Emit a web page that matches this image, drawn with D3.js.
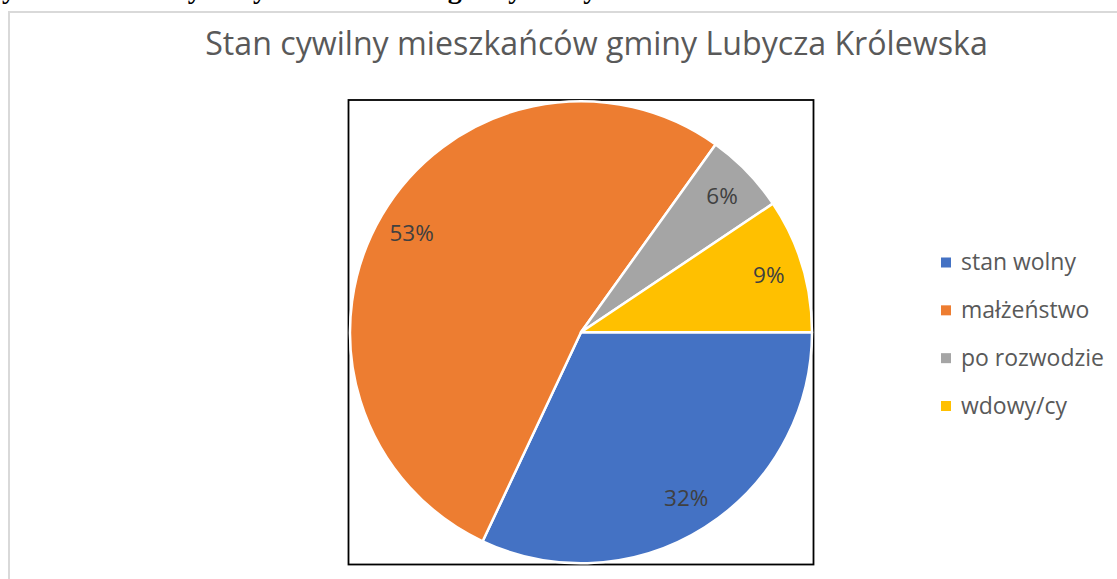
<!DOCTYPE html>
<html>
<head>
<meta charset="utf-8">
<script src="https://cdn.jsdelivr.net/npm/d3@7"></script>
<style>
  html, body { margin: 0; padding: 0; background: #fff; overflow: hidden; }
  svg { display: block; }
</style>
</head>
<body>
<script>
// ---- data ----
const categories = ["stan wolny", "małżeństwo", "po rozwodzie", "wdowy/cy"];
const shares = [32.0, 52.9, 5.7, 9.4];
const colors = ["#4472C4", "#ED7D31", "#A5A5A5", "#FFC000"];
const chartTitle = "Stan cywilny mieszkańców gminy Lubycza Królewska";
const captionText = "Wykres 5. Stan cywilny mieszkańców gminy Lubycza Królewska w 2019 r.";

const W = 1117, H = 579;
const svg = d3.select("body").append("svg").attr("width", W).attr("height", H);

// partially cut document caption above the chart (only descenders visible)
svg.append("text")
  .attr("x", -25).attr("y", -2.5)
  .attr("font-family", "'Liberation Serif', 'Times New Roman', serif")
  .attr("font-weight", "bold")
  .attr("font-size", 28)
  .attr("word-spacing", 4)
  .attr("fill", "#000")
  .text(captionText);

// chart area frame
svg.append("rect")
  .attr("x", 9).attr("y", 12).attr("width", 1300).attr("height", 800)
  .attr("fill", "#fff").attr("stroke", "#d9d9d9").attr("stroke-width", 2);

const font = "'Open Sans', 'Noto Sans', sans-serif";

function fitText(sel, targetWidth, baseSize) {
  sel.attr("font-size", baseSize);
  const w = sel.node().getComputedTextLength();
  sel.attr("font-size", baseSize * targetWidth / w);
}

// title
const title = svg.append("text")
  .attr("x", 596.5).attr("y", 55)
  .attr("text-anchor", "middle")
  .attr("font-family", font)
  .attr("fill", "#595959")
  .text(chartTitle);
fitText(title, 783, 26);

// plot area border
const plot = { x: 348.5, y: 100, w: 465, h: 464.5 };
svg.append("rect")
  .attr("x", plot.x).attr("y", plot.y).attr("width", plot.w).attr("height", plot.h)
  .attr("fill", "none").attr("stroke", "#000").attr("stroke-width", 1.8);

const cx = plot.x + plot.w / 2, cy = plot.y + plot.h / 2;
const R = 231;

const pie = d3.pie().sort(null).value(d => d)
  .startAngle(Math.PI / 2).endAngle(Math.PI / 2 + 2 * Math.PI);
const arcs = pie(shares);
const arc = d3.arc().innerRadius(0).outerRadius(R);
const labelArc = d3.arc().innerRadius(R * 0.85).outerRadius(R * 0.85);

const g = svg.append("g").attr("transform", `translate(${cx},${cy})`);
g.selectAll("path.slice").data(arcs).join("path")
  .attr("class", "slice")
  .attr("d", arc)
  .attr("fill", (d, i) => colors[i])
  .attr("stroke", "#fff")
  .attr("stroke-width", 2.5)
  .attr("stroke-linejoin", "round");

const fmt = d3.format(".0f");
g.selectAll("text.lbl").data(arcs).join("text")
  .attr("class", "lbl")
  .attr("transform", d => { const c = labelArc.centroid(d); return `translate(${c[0]},${c[1]})`; })
  .attr("dy", "0.36em")
  .attr("text-anchor", "middle")
  .attr("font-family", font)
  .attr("font-size", 22.5)
  .attr("fill", "#404040")
  .text(d => fmt(d.value) + "%");

// legend
const ly = d3.scalePoint().domain(categories).range([262.5, 406]);
const leg = svg.append("g");
const items = leg.selectAll("g").data(categories).join("g")
  .attr("transform", d => `translate(941,${ly(d)})`);
items.append("rect")
  .attr("x", 0).attr("y", -5).attr("width", 10).attr("height", 10)
  .attr("fill", (d, i) => colors[i]);
const ltexts = items.append("text")
  .attr("x", 20).attr("y", 7.5)
  .attr("font-family", font)
  .attr("fill", "#595959")
  .text(d => d);
// size legend font so first label matches reference width
const probe = ltexts.filter((d, i) => i === 0);
probe.attr("font-size", 22);
const k = 115 / probe.node().getComputedTextLength();
ltexts.attr("font-size", 22 * k);
</script>
</body>
</html>
